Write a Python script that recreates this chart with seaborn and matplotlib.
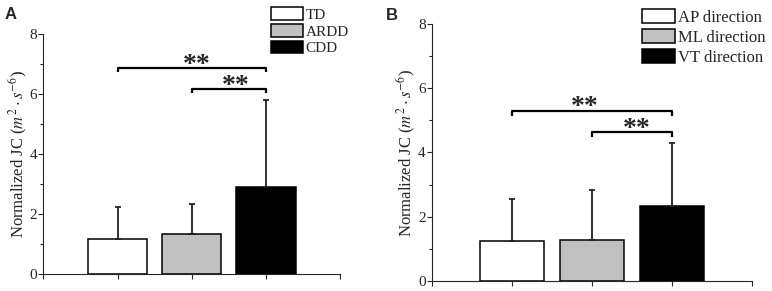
import matplotlib.pyplot as plt
import seaborn as sns
from matplotlib.patches import Patch

# panel A: group comparison
groups_a = ['TD', 'ARDD', 'CDD']
mean_a = [1.15, 1.33, 2.88]
sd_a = [1.06, 1.00, 2.93]
sig_a = [(0, 2, 6.88), (1, 2, 6.17)]

# panel B: direction comparison
groups_b = ['AP direction', 'ML direction', 'VT direction']
mean_b = [1.26, 1.29, 2.32]
sd_b = [1.28, 1.55, 1.99]
sig_b = [(0, 2, 5.30), (1, 2, 4.63)]

colors = ['white', '#c0c0c0', 'black']

sns.set_style('ticks')
plt.rcParams['font.family'] = ['Liberation Serif', 'DejaVu Serif']
plt.rcParams['mathtext.fontset'] = 'stix'

fig = plt.figure(figsize=(7.72, 2.91), dpi=100)
ax_a = fig.add_axes([0.0563, 0.0601, 0.3841, 0.8231])
ax_b = fig.add_axes([0.5596, 0.0344, 0.4145, 0.8831])


def draw_panel(ax, groups, means, sds, sigs, star_dx):
    sns.barplot(x=groups, y=means, hue=groups, palette=dict(zip(groups, colors)),
                width=0.8, edgecolor='black', linewidth=1.1, saturation=1,
                legend=False, ax=ax)
    xs = [p.get_x() + p.get_width() / 2 for p in ax.patches]
    ax.errorbar(xs, means, yerr=[[0] * len(sds), sds], fmt='none', ecolor='#222222',
                elinewidth=1.3, capsize=2, capthick=1.3, zorder=3)
    for (i, j, h), dx in zip(sigs, star_dx):
        ax.plot([xs[i], xs[i], xs[j], xs[j]], [h - 0.15, h, h, h - 0.15],
                color='black', lw=1.6, solid_capstyle='butt')
        # times asterisks sit high, so anchor on the baseline and shift down
        ax.annotate('**', ((xs[i] + xs[j]) / 2 + dx, h + 0.3), xytext=(0, -9.5),
                    textcoords='offset points', ha='center', va='baseline',
                    fontsize=20, fontweight='bold')
    ax.set_xlim(-1, 3)
    ax.set_ylim(0, 8)
    ax.set_xticks([-1, 0, 1, 2, 3])
    ax.set_xticklabels([])
    ax.set_yticks([0, 2, 4, 6, 8])
    ax.set_yticks([1, 3, 5, 7], minor=True)
    ax.tick_params(axis='both', which='major', length=3.5, width=0.8, labelsize=11, pad=1)
    ax.tick_params(axis='y', which='minor', length=2, width=0.8)
    ax.set_xlabel('')
    ax.set_ylabel(r'Normalized JC ($m^2 \cdot s^{-6}$)', fontsize=12, labelpad=0)
    for s in ['left', 'bottom']:
        ax.spines[s].set_linewidth(0.8)
    sns.despine(ax=ax)


draw_panel(ax_a, groups_a, mean_a, sd_a, sig_a, [0.07, 0.1])
draw_panel(ax_b, groups_b, mean_b, sd_b, sig_b, [-0.09, 0.06])

hand = [Patch(facecolor=c, edgecolor='black', lw=1.1) for c in colors]
fig.legend(hand, groups_a, loc='upper left', bbox_to_anchor=(271 / 772, 1 - 7 / 291),
           frameon=False, fontsize=11, handlelength=2.1, handleheight=0.9,
           handletextpad=0.15, labelspacing=0.15, borderpad=0, borderaxespad=0)
fig.legend(hand, groups_b, loc='upper left', bbox_to_anchor=(642 / 772, 1 - 9 / 291),
           frameon=False, fontsize=12, handlelength=2.0, handleheight=0.95,
           handletextpad=0.15, labelspacing=0.18, borderpad=0, borderaxespad=0)

fig.text(5 / 772, 1 - 19 / 291, 'A', fontsize=12, fontweight='bold', family='Liberation Sans')
fig.text(386 / 772, 1 - 20 / 291, 'B', fontsize=12, fontweight='bold', family='Liberation Sans')

fig.savefig('out.png', dpi=100)
